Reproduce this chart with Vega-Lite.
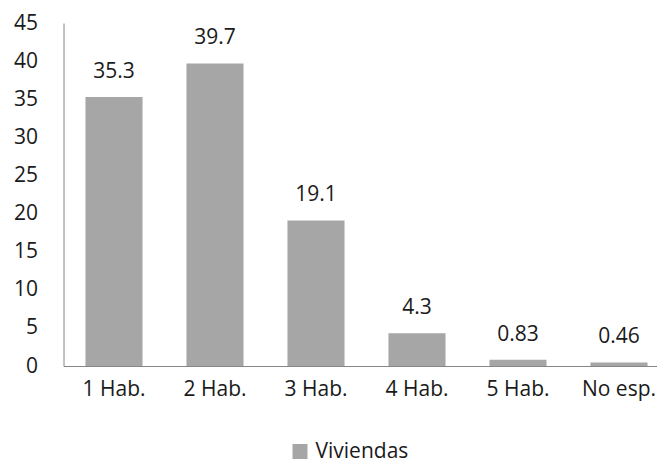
{
  "$schema": "https://vega.github.io/schema/vega-lite/v6.json",
  "width": 606,
  "height": 343,
  "autosize": {"type": "none"},
  "padding": {"left": 63.5, "top": 23, "right": 0, "bottom": 99},
  "background": "white",
  "config": {
    "view": {"stroke": null},
    "font": "Open Sans",
    "text": {"font": "Open Sans"}
  },
  "data": {
    "values": [
      {"cat": "1 Hab.", "value": 35.3, "label": "35.3", "serie": "Viviendas"},
      {"cat": "2 Hab.", "value": 39.7, "label": "39.7", "serie": "Viviendas"},
      {"cat": "3 Hab.", "value": 19.1, "label": "19.1", "serie": "Viviendas"},
      {"cat": "4 Hab.", "value": 4.3, "label": "4.3", "serie": "Viviendas"},
      {"cat": "5 Hab.", "value": 0.83, "label": "0.83", "serie": "Viviendas"},
      {"cat": "No esp.", "value": 0.46, "label": "0.46", "serie": "Viviendas"}
    ]
  },
  "encoding": {
    "x": {
      "field": "cat", "type": "nominal", "sort": null,
      "scale": {"paddingInner": 0.435, "paddingOuter": 0.2175},
      "axis": {"title": null, "labelAngle": 0, "labelFontSize": 21, "labelColor": "#1a1a1a", "labelPadding": 23, "labelBaseline": "middle", "ticks": false, "domainColor": "#868686", "labelFont": "Open Sans"}
    },
    "y": {
      "field": "value", "type": "quantitative",
      "scale": {"domain": [0, 45], "nice": false},
      "axis": {"title": null, "values": [0,5,10,15,20,25,30,35,40,45], "grid": false, "ticks": false, "labelFontSize": 21, "labelColor": "#1a1a1a", "labelPadding": 26, "domainColor": "#868686", "labelFont": "Open Sans"}
    }
  },
  "layer": [
    {
      "mark": {"type": "bar", "color": "#a6a6a6"},
      "encoding": {
        "color": {"field": "serie", "type": "nominal", "scale": {"range": ["#a6a6a6"]},
          "legend": {"title": null, "orient": "none", "legendX": 226, "legendY": 418, "symbolType": "square", "symbolSize": 225, "labelFontSize": 21, "labelColor": "#1a1a1a", "labelFont": "Open Sans", "symbolStrokeWidth": 0, "labelOffset": 5}}
      }
    },
    {
      "mark": {"type": "text", "dy": -25, "baseline": "middle", "fontSize": 21, "color": "#1a1a1a"},
      "encoding": {"text": {"field": "label"}}
    }
  ]
}
